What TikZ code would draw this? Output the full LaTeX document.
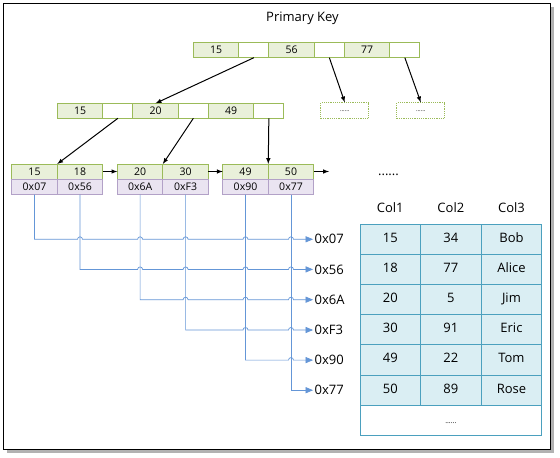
\documentclass[tikz,border=0pt]{standalone}
\usepackage{fontspec}
\setmainfont{Open Sans}
\usetikzlibrary{arrows,matrix,positioning,shapes,calc}

\definecolor{keygreen}{RGB}{155,187,89}
\definecolor{keyfill}{RGB}{233,240,218}
\definecolor{addrline}{RGB}{178,161,199}
\definecolor{addrfill}{RGB}{234,228,241}
\definecolor{rowline}{RGB}{75,160,190}
\definecolor{rowfill}{RGB}{218,238,243}
\definecolor{linkblue}{RGB}{100,150,215}

\tikzset{
  key/.style={draw=keygreen, fill=keyfill, line width=0.9pt, minimum width=45.5pt,
    minimum height=15pt, inner sep=0pt, outer sep=0pt, font=\fontsize{10.5}{11}\selectfont},
  ptr/.style={key, fill=white, minimum width=30pt},
  addr/.style={key, draw=addrline, fill=addrfill, minimum height=15.5pt},
  more/.style={draw=keygreen, fill=white, line width=0.9pt, dash pattern=on 1.2pt off 1pt,
    minimum width=48pt, minimum height=16pt, inner sep=0pt, font=\fontsize{6}{6}\selectfont},
  cell/.style={draw=rowline, fill=rowfill, line width=0.9pt, minimum width=60.6pt,
    minimum height=30.2pt, inner sep=0pt, outer sep=0pt, text height=9pt, text depth=3pt,
    anchor=center},
  big/.style={font=\fontsize{13}{15}\selectfont},
  tree/.style={-latex, line width=1pt},
  link/.style={-triangle 45, draw=linkblue, line width=0.7pt},
}

\begin{document}
\begin{tikzpicture}[x=1pt,y=-1pt]
  \useasboundingbox (0,0) rectangle (560,458);
  \fill[black!30] (6.5,6.5) rectangle (553.5,452.5);
  \draw[fill=white, line width=1pt] (3.3,3.3) rectangle (550,449.3);

  \node[big] (title) at (302.5,18.5) {Primary Key};

  % root
  \node[key] (t1) at (216.1,50.2) {15};
  \node[ptr, right=0pt of t1] (t1p) {};
  \node[key, right=0pt of t1p] (t2) {56};
  \node[ptr, right=0pt of t2] (t2p) {};
  \node[key, right=0pt of t2p] (t3) {77};
  \node[ptr, right=0pt of t3] (t3p) {};

  % inner node
  \node[key] (s1) at (80.1,110.8) {15};
  \node[ptr, right=0pt of s1] (s1p) {};
  \node[key, right=0pt of s1p] (s2) {20};
  \node[ptr, right=0pt of s2] (s2p) {};
  \node[key, right=0pt of s2p] (s3) {49};
  \node[ptr, right=0pt of s3] (s3p) {};

  \node[more] (d1) at (344.8,110.8) {......};
  \node[more] (d2) at (420.8,110.8) {......};

  % leaves
  \node[key] (l1a) at (34.5,171.5) {15};
  \node[key, right=0pt of l1a] (l1b) {18};
  \node[addr, below=0pt of l1a] (l1c) {0x07};
  \node[addr, below=0pt of l1b] (l1d) {0x56};
  \node[key] (l2a) at (140.1,171.5) {20};
  \node[key, right=0pt of l2a] (l2b) {30};
  \node[addr, below=0pt of l2a] (l2c) {0x6A};
  \node[addr, below=0pt of l2b] (l2d) {0xF3};
  \node[key] (l3a) at (245.5,171.5) {49};
  \node[key, right=0pt of l3a] (l3b) {50};
  \node[addr, below=0pt of l3a] (l3c) {0x90};
  \node[addr, below=0pt of l3b] (l3d) {0x77};
  \coordinate (next) at (329,171.5);
  \node[big] (etc) at (388.5,175) {......};

  \draw[tree] (t1p.south) -- (s2.north);
  \draw[tree] (t2p.south) -- (d1.north);
  \draw[tree] (t3p.south) -- (d2.north);
  \draw[tree] (s1p.south) -- (l1a.north east);
  \draw[tree] (s2p.south) -- (l2a.north east);
  \draw[tree] (s3p.south) -- (l3a.north east);
  \draw[tree] (l1b.east) -- (l2a.west);
  \draw[tree] (l2b.east) -- (l3a.west);
  \draw[tree] (l3b.east) -- (next);

  % row pointers
  \node[big, anchor=west, inner sep=1.5pt] (p1) at (313,239.3) {0x07};
  \node[big, anchor=west, inner sep=1.5pt] (p2) at (313,269.4) {0x56};
  \node[big, anchor=west, inner sep=1.5pt] (p3) at (313,299.7) {0x6A};
  \node[big, anchor=west, inner sep=1.5pt] (p4) at (313,330) {0xF3};
  \node[big, anchor=west, inner sep=1.5pt] (p5) at (313,360.1) {0x90};
  \node[big, anchor=west, inner sep=1.5pt] (p6) at (313,390.2) {0x77};

  \draw[link] (l1c.south) -- (l1c.south |- p1.west)
    \foreach \n in {l1d,l2c,l2d,l3c,l3d} { -- ($(\n.south |- p1.west)+(-2.5,0)$)
      arc[start angle=180, end angle=0, radius=2.5pt] } -- (p1.west);
  \draw[link] (l1d.south) -- (l1d.south |- p2.west)
    \foreach \n in {l2c,l2d,l3c,l3d} { -- ($(\n.south |- p2.west)+(-2.5,0)$)
      arc[start angle=180, end angle=0, radius=2.5pt] } -- (p2.west);
  \draw[link] (l2c.south) -- (l2c.south |- p3.west)
    \foreach \n in {l2d,l3c,l3d} { -- ($(\n.south |- p3.west)+(-2.5,0)$)
      arc[start angle=180, end angle=0, radius=2.5pt] } -- (p3.west);
  \draw[link] (l2d.south) -- (l2d.south |- p4.west)
    \foreach \n in {l3c,l3d} { -- ($(\n.south |- p4.west)+(-2.5,0)$)
      arc[start angle=180, end angle=0, radius=2.5pt] } -- (p4.west);
  \draw[link] (l3c.south) -- (l3c.south |- p5.west)
    \foreach \n in {l3d} { -- ($(\n.south |- p5.west)+(-2.5,0)$)
      arc[start angle=180, end angle=0, radius=2.5pt] } -- (p5.west);
  \draw[link] (l3d.south) |- (p6.west);

  % table
  \matrix (tbl) [matrix of nodes, anchor=north west, inner sep=0pt,
    nodes={cell,big}, row sep=-0.9pt, column sep=-0.9pt,
    row 1/.style={nodes={draw=none,fill=none}}] at (359.3,194.1) {
    Col1 & Col2 & Col3 \\
    15 & 34 & Bob \\
    18 & 77 & Alice \\
    20 & 5 & Jim \\
    30 & 91 & Eric \\
    49 & 22 & Tom \\
    50 & 89 & Rose \\
  };
  \node[cell, fill=white, minimum width=181.8pt, anchor=north west,
    font=\fontsize{7}{7}\selectfont] (tblmore) at (tbl-7-1.south west) {......};
\end{tikzpicture}
\end{document}
